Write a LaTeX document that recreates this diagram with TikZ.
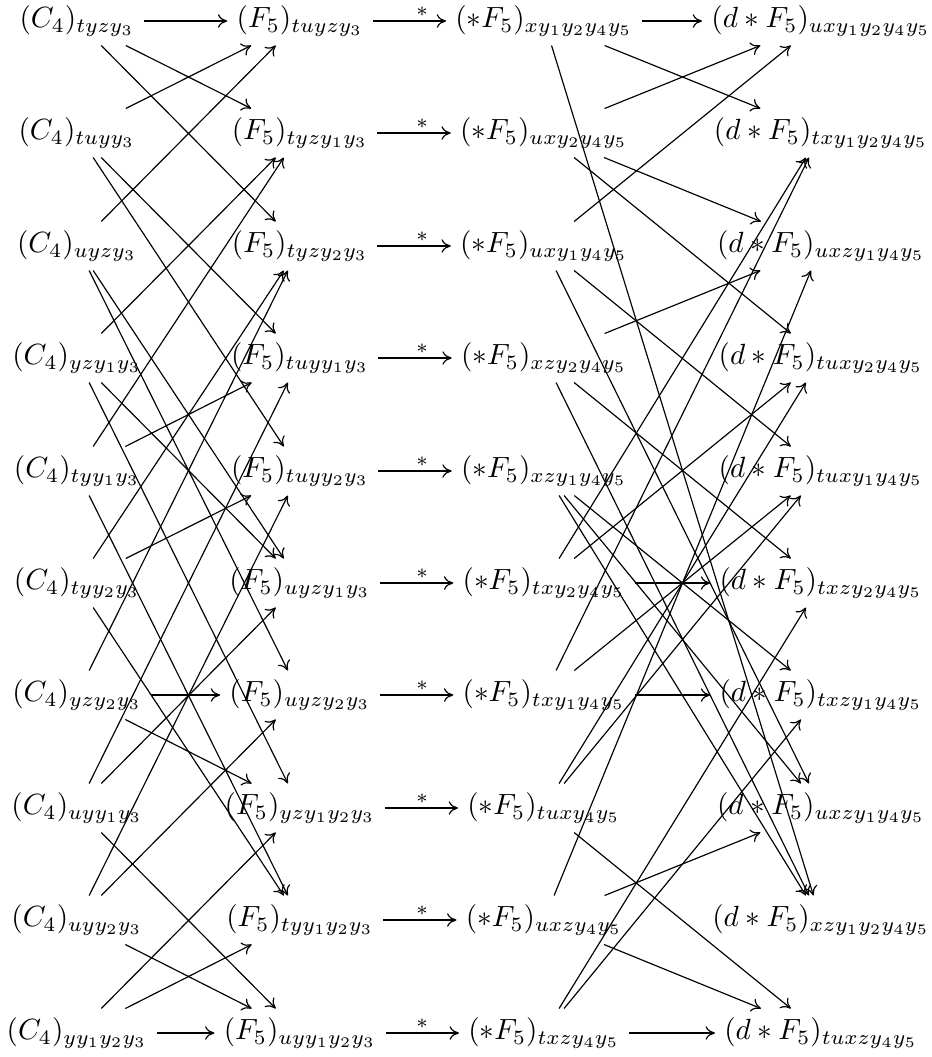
\documentclass[tikz,border=0pt]{standalone}
\usepackage{amsmath}
\usetikzlibrary{arrows.meta}

\begin{document}
\begin{tikzpicture}[x=0.342pt,y=-0.342pt,cell/.style={inner xsep=3pt,inner ysep=3pt},map/.style={-{To[length=3.2pt,width=4.6pt]},thin},starlabel/.style={above,inner sep=1.5pt}]
    \useasboundingbox (0,0) rectangle (932,1057);
    % C_4
    \node[cell] (c1) at (77,21) {$(C_4)_{tyzy_3}$};
    \node[cell] (c2) at (77,133) {$(C_4)_{tuyy_3}$};
    \node[cell] (c3) at (77,246) {$(C_4)_{uyzy_3}$};
    \node[cell] (c4) at (77,358) {$(C_4)_{yzy_1y_3}$};
    \node[cell] (c5) at (77,471) {$(C_4)_{tyy_1y_3}$};
    \node[cell] (c6) at (77,583) {$(C_4)_{tyy_2y_3}$};
    \node[cell] (c7) at (77,695) {$(C_4)_{yzy_2y_3}$};
    \node[cell] (c8) at (77,808) {$(C_4)_{uyy_1y_3}$};
    \node[cell] (c9) at (77,920) {$(C_4)_{uyy_2y_3}$};
    \node[cell] (c10) at (77,1033) {$(C_4)_{yy_1y_2y_3}$};
    % F_5
    \node[cell] (f1) at (300,21) {$(F_5)_{tuyzy_3}$};
    \node[cell] (f2) at (300,133) {$(F_5)_{tyzy_1y_3}$};
    \node[cell] (f3) at (300,246) {$(F_5)_{tyzy_2y_3}$};
    \node[cell] (f4) at (300,358) {$(F_5)_{tuyy_1y_3}$};
    \node[cell] (f5) at (300,471) {$(F_5)_{tuyy_2y_3}$};
    \node[cell] (f6) at (300,583) {$(F_5)_{uyzy_1y_3}$};
    \node[cell] (f7) at (300,695) {$(F_5)_{uyzy_2y_3}$};
    \node[cell] (f8) at (300,808) {$(F_5)_{yzy_1y_2y_3}$};
    \node[cell] (f9) at (300,920) {$(F_5)_{tyy_1y_2y_3}$};
    \node[cell] (f10) at (300,1033) {$(F_5)_{uyy_1y_2y_3}$};
    % *F_5
    \node[cell] (s1) at (544,21) {$(*F_5)_{xy_1y_2y_4y_5}$};
    \node[cell] (s2) at (544,133) {$(*F_5)_{uxy_2y_4y_5}$};
    \node[cell] (s3) at (544,246) {$(*F_5)_{uxy_1y_4y_5}$};
    \node[cell] (s4) at (544,358) {$(*F_5)_{xzy_2y_4y_5}$};
    \node[cell] (s5) at (544,471) {$(*F_5)_{xzy_1y_4y_5}$};
    \node[cell] (s6) at (544,583) {$(*F_5)_{txy_2y_4y_5}$};
    \node[cell] (s7) at (544,695) {$(*F_5)_{txy_1y_4y_5}$};
    \node[cell] (s8) at (544,808) {$(*F_5)_{tuxy_4y_5}$};
    \node[cell] (s9) at (544,920) {$(*F_5)_{uxzy_4y_5}$};
    \node[cell] (s10) at (544,1033) {$(*F_5)_{txzy_4y_5}$};
    % d*F_5
    \node[cell] (d1) at (821,21) {$(d*F_5)_{uxy_1y_2y_4y_5}$};
    \node[cell] (d2) at (821,133) {$(d*F_5)_{txy_1y_2y_4y_5}$};
    \node[cell] (d3) at (821,246) {$(d*F_5)_{uxzy_1y_4y_5}$};
    \node[cell] (d4) at (821,358) {$(d*F_5)_{tuxy_2y_4y_5}$};
    \node[cell] (d5) at (821,471) {$(d*F_5)_{tuxy_1y_4y_5}$};
    \node[cell] (d6) at (821,583) {$(d*F_5)_{txzy_2y_4y_5}$};
    \node[cell] (d7) at (821,695) {$(d*F_5)_{txzy_1y_4y_5}$};
    \node[cell] (d8) at (821,808) {$(d*F_5)_{uxzy_1y_4y_5}$};
    \node[cell] (d9) at (821,920) {$(d*F_5)_{xzy_1y_2y_4y_5}$};
    \node[cell] (d10) at (821,1033) {$(d*F_5)_{tuxzy_4y_5}$};
    % C_4 -> F_5
    \draw[map] (c1)--(f1); \draw[map] (c1)--(f2); \draw[map] (c1)--(f3);
    \draw[map] (c2)--(f1); \draw[map] (c2)--(f4); \draw[map] (c2)--(f5);
    \draw[map] (c3)--(f1); \draw[map] (c3)--(f6); \draw[map] (c3)--(f7);
    \draw[map] (c4)--(f2); \draw[map] (c4)--(f6); \draw[map] (c4)--(f8);
    \draw[map] (c5)--(f2); \draw[map] (c5)--(f4); \draw[map] (c5)--(f9);
    \draw[map] (c6)--(f3); \draw[map] (c6)--(f5); \draw[map] (c6)--(f9);
    \draw[map] (c7)--(f3); \draw[map] (c7)--(f7); \draw[map] (c7)--(f8);
    \draw[map] (c8)--(f4); \draw[map] (c8)--(f6); \draw[map] (c8)--(f10);
    \draw[map] (c9)--(f5); \draw[map] (c9)--(f7); \draw[map] (c9)--(f10);
    \draw[map] (c10)--(f8); \draw[map] (c10)--(f9); \draw[map] (c10)--(f10);
    % F_5 -> *F_5, label midway between the centres
    \draw[map] (f1)--(s1); \path (f1.center)--node[starlabel]{$\scriptstyle *$}(s1.center);
    \draw[map] (f2)--(s2); \path (f2.center)--node[starlabel]{$\scriptstyle *$}(s2.center);
    \draw[map] (f3)--(s3); \path (f3.center)--node[starlabel]{$\scriptstyle *$}(s3.center);
    \draw[map] (f4)--(s4); \path (f4.center)--node[starlabel]{$\scriptstyle *$}(s4.center);
    \draw[map] (f5)--(s5); \path (f5.center)--node[starlabel]{$\scriptstyle *$}(s5.center);
    \draw[map] (f6)--(s6); \path (f6.center)--node[starlabel]{$\scriptstyle *$}(s6.center);
    \draw[map] (f7)--(s7); \path (f7.center)--node[starlabel]{$\scriptstyle *$}(s7.center);
    \draw[map] (f8)--(s8); \path (f8.center)--node[starlabel]{$\scriptstyle *$}(s8.center);
    \draw[map] (f9)--(s9); \path (f9.center)--node[starlabel]{$\scriptstyle *$}(s9.center);
    \draw[map] (f10)--(s10); \path (f10.center)--node[starlabel]{$\scriptstyle *$}(s10.center);
    % *F_5 -> d*F_5
    \draw[map] (s1)--(d1); \draw[map] (s1)--(d2); \draw[map] (s1)--(d9);
    \draw[map] (s2)--(d1); \draw[map] (s2)--(d3); \draw[map] (s2)--(d4);
    \draw[map] (s3)--(d1); \draw[map] (s3)--(d5); \draw[map] (s3)--(d8);
    \draw[map] (s4)--(d3); \draw[map] (s4)--(d6); \draw[map] (s4)--(d9);
    \draw[map] (s5)--(d7); \draw[map] (s5)--(d8); \draw[map] (s5)--(d9);
    \draw[map] (s6)--(d2); \draw[map] (s6)--(d4); \draw[map] (s6)--(d6);
    \draw[map] (s7)--(d2); \draw[map] (s7)--(d5); \draw[map] (s7)--(d7);
    \draw[map] (s8)--(d4); \draw[map] (s8)--(d5); \draw[map] (s8)--(d10);
    \draw[map] (s9)--(d3); \draw[map] (s9)--(d8); \draw[map] (s9)--(d10);
    \draw[map] (s10)--(d6); \draw[map] (s10)--(d7); \draw[map] (s10)--(d10);
  \end{tikzpicture}
\end{document}
